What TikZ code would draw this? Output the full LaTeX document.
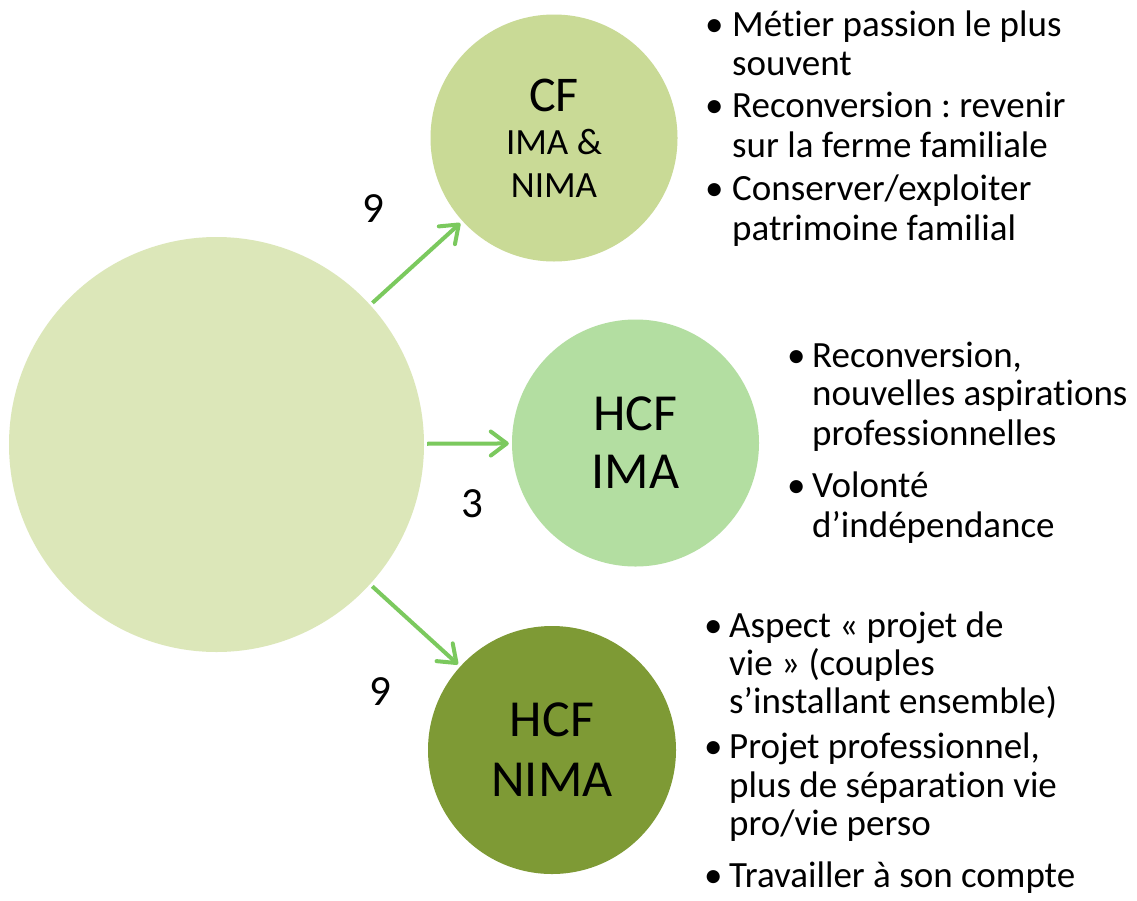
\documentclass[tikz,border=0pt]{standalone}
\usepackage{fontspec}
\setmainfont{Carlito}[RawFeature={-liga}]
\usetikzlibrary{arrows.meta}
\definecolor{bigc}{HTML}{DCE7B9}
\definecolor{cfc}{HTML}{C9DA96}
\definecolor{imac}{HTML}{B3DEA1}
\definecolor{nimac}{HTML}{7E9A35}
\definecolor{arrc}{HTML}{7BC95E}
\frenchspacing
\begin{document}
\begin{tikzpicture}[x=1pt,y=-1pt,
  disc/.style={circle,inner sep=0pt,align=center},
  arr/.style={draw=arrc,line width=4pt,shorten <=3pt,shorten >=3pt,
    -{Straight Barb[length=16pt,width=24pt,round]}},
  ln/.style={anchor=base west,inner sep=0pt,font=\fontsize{37}{42}\selectfont},
  bl/.style={anchor=base west,inner sep=0pt,font=\fontsize{37}{42}\selectfont},
  num/.style={anchor=base,inner sep=0pt,font=\fontsize{43}{48}\selectfont}]
\useasboundingbox (0,0) rectangle (1137,900);
\fill[white] (0,0) rectangle (1137,900);

\node[disc,fill=bigc,minimum size=415pt] (big) at (216.5,444.5) {};
\node[disc,fill=cfc,minimum size=247pt,font=\fontsize{37}{43}\selectfont] (cf) at (554,138)
  {{\fontsize{50}{48}\selectfont CF}\\IMA \&\\NIMA};
\node[disc,fill=imac,minimum size=247pt,font=\fontsize{52}{58}\selectfont] (ima) at (635.5,443) {HCF\\IMA};
\node[disc,fill=nimac,minimum size=248pt,font=\fontsize{52}{60}\selectfont] (nima) at (552,750) {HCF\\NIMA};

\draw[arr] (big) -- (cf);
\draw[arr] (big) -- (ima);
\draw[arr] (big) -- (nima);

\node[num] (n1) at (373,222) {9};
\node[num] (n2) at (472,517) {3};
\node[num] (n3) at (380,705) {9};

% block 1
\node[bl] (b11) at (705,36) {•};
\node[ln] (t11) at (732,36) {Métier passion le plus};
\node[ln] (t12) at (732,75) {souvent};
\node[bl] (b12) at (705,117) {•};
\node[ln] (t13) at (732,117) {Reconversion : revenir};
\node[ln] (t14) at (732,157) {sur la ferme familiale};
\node[bl] (b13) at (705,200) {•};
\node[ln] (t15) at (732,200) {Conserver/exploiter};
\node[ln] (t16) at (732,240) {patrimoine familial};

% block 2
\node[bl] (b21) at (787,367) {•};
\node[ln] (t21) at (812,367) {Reconversion,};
\node[ln] (t22) at (812,405) {nouvelles aspirations};
\node[ln] (t23) at (812,445) {professionnelles};
\node[bl] (b22) at (787,497) {•};
\node[ln] (t24) at (812,497) {Volonté};
\node[ln] (t25) at (812,537) {d’indépendance};

% block 3
\node[bl] (b31) at (704,637) {•};
\node[ln] (t31) at (729,637) {Aspect « projet de};
\node[ln] (t32) at (729,675) {vie » (couples};
\node[ln] (t33) at (729,713) {s’installant ensemble)};
\node[bl] (b32) at (704,758) {•};
\node[ln] (t34) at (729,758) {Projet professionnel,};
\node[ln] (t35) at (729,797) {plus de séparation vie};
\node[ln] (t36) at (729,835) {pro/vie perso};
\node[bl] (b33) at (704,887) {•};
\node[ln] (t37) at (729,887) {Travailler à son compte};
\end{tikzpicture}
\end{document}
